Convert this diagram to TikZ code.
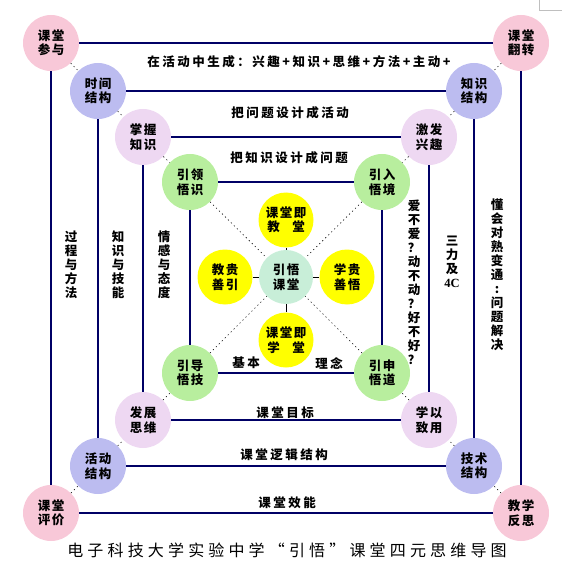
\documentclass[tikz,border=0pt]{standalone}
\usepackage{fontspec}
\setmainfont{Noto Sans CJK SC}
\newfontfamily\bodyfont{Noto Sans CJK SC}[LetterSpace=12]
\newfontfamily\labelfont{Noto Sans CJK SC}[LetterSpace=20]
\newfontfamily\titlefont{Noto Sans CJK SC}[LetterSpace=26]
\newfontfamily\latinfont{Liberation Serif}
\definecolor{pinkc}{HTML}{F8C8D8}
\definecolor{lavc}{HTML}{BCBCF0}
\definecolor{lilac}{HTML}{EED8F2}
\definecolor{greenc}{HTML}{B8EE9E}
\definecolor{mintc}{HTML}{C8EED8}
\definecolor{yellowc}{HTML}{FFFF00}
\definecolor{navy}{HTML}{000066}

\begin{document}
\begin{tikzpicture}[x=1pt, y=-1pt,
    ring/.style={circle, minimum size=56pt, inner sep=0pt, align=center,
        font={\bodyfont\bfseries\fontsize{12.5}{14.5}\selectfont}},
    label text/.style={inner sep=0pt, font={\labelfont\bfseries\fontsize{12.5}{14.5}\selectfont}},
    vtext/.style={inner sep=0pt, align=center, font={\bodyfont\bfseries\fontsize{12.5}{14}\selectfont}},
    frame/.style={draw=navy, line width=1.1pt},
    dotline/.style={draw=black, line width=0.6pt, dash pattern=on 1.2pt off 3pt}]
    \useasboundingbox (0,0) rectangle (562,569);
    \draw[gray!50] (539,0) -- (539,10) -- (562,10);

    % Outer circles
    \node[ring, fill=pinkc] (p1) at (51,43) {课堂\\参与};
    \node[ring, fill=pinkc] (p2) at (521,43) {课堂\\翻转};
    \node[ring, fill=pinkc] (p3) at (51,513) {课堂\\评价};
    \node[ring, fill=pinkc] (p4) at (521,513) {教学\\反思};

    \node[ring, fill=lavc] (l1) at (98,91) {时间\\结构};
    \node[ring, fill=lavc] (l2) at (474,91) {知识\\结构};
    \node[ring, fill=lavc] (l3) at (98,466) {活动\\结构};
    \node[ring, fill=lavc] (l4) at (474,466) {技术\\结构};

    \node[ring, fill=lilac] (m1) at (143,137) {掌握\\知识};
    \node[ring, fill=lilac] (m2) at (429,137) {激发\\兴趣};
    \node[ring, fill=lilac] (m3) at (143,420) {发展\\思维};
    \node[ring, fill=lilac] (m4) at (429,420) {学以\\致用};

    \node[ring, fill=greenc] (g1) at (190,182) {引领\\悟识};
    \node[ring, fill=greenc] (g2) at (382,182) {引入\\悟境};
    \node[ring, fill=greenc] (g3) at (190,373) {引导\\悟技};
    \node[ring, fill=greenc] (g4) at (382,373) {引申\\悟道};

    % Centre and yellow circles
    \node[ring, fill=mintc, minimum size=54pt] (c) at (286,277) {引悟\\课堂};
    \node[ring, fill=yellowc, minimum size=55pt] (yt) at (286,220) {课堂即\\教\quad 堂};
    \node[ring, fill=yellowc, minimum size=55pt] (yl) at (225,277) {教贵\\善引};
    \node[ring, fill=yellowc, minimum size=55pt] (yr) at (347,277) {学贵\\善悟};
    \node[ring, fill=yellowc, minimum size=55pt] (yb) at (286,340) {课堂即\\学\quad 堂};

    % Frames
    \draw[frame] (p1) -- (p2) (p1) -- (p3) (p3) -- (p4) (p2) -- (p4);
    \draw[frame] (l1) -- (l2) (l1) -- (l3) (l3) -- (l4) (l2) -- (l4);
    \draw[frame] (m1) -- (m2) (m1) -- (m3) (m3) -- (m4) (m2) -- (m4);
    \draw[frame] (g1) -- (g2) (g1) -- (g3) (g3) -- (g4) (g2) -- (g4);

    % Diagonals
    \draw[dotline] (p1) -- (l1) (l1) -- (m1) (m1) -- (g1) (g1) -- (c);
    \draw[dotline] (p2) -- (l2) (l2) -- (m2) (m2) -- (g2) (g2) -- (c);
    \draw[dotline] (p3) -- (l3) (l3) -- (m3) (m3) -- (g3) (g3) -- (c);
    \draw[dotline] (p4) -- (l4) (l4) -- (m4) (m4) -- (g4) (g4) -- (c);
    \draw[black, line width=0.6pt] (c) -- (yt) (c) -- (yl) (c) -- (yr) (c) -- (yb);

    % Horizontal texts
    \node[label text] (t1) at (299,62) {在活动中生成：兴趣+知识+思维+方法+主动+};
    \node[label text] (t2) at (290,113) {把问题设计成活动};
    \node[label text] (t3) at (289,158) {把知识设计成问题};
    \node[label text] (b1) at (285,413) {课堂目标};
    \node[label text] (b2) at (284,455) {课堂逻辑结构};
    \node[label text] (b3) at (287,503) {课堂效能};
    \node[label text] (k1) at (246,363) {基本};
    \node[label text] (k2) at (329,363) {理念};

    % Vertical texts
    \node[vtext] (v1) at (71,265) {过\\程\\与\\方\\法};
    \node[vtext] (v2) at (118,265) {知\\识\\与\\技\\能};
    \node[vtext] (v3) at (164,265) {情\\感\\与\\态\\度};
    \node[vtext] (v4) at (414,282) {爱\\不\\爱\\？\\动\\不\\动\\？\\好\\不\\好\\？};
    \node[vtext] (v5) at (452,262) {三\\力\\及\\{\latinfont\bfseries 4C}};
    \node[vtext] (v6) at (497,275) {懂\\会\\对\\熟\\变\\通\\:\\问\\题\\解\\决};

    % Title
    \node[inner sep=0pt, font={\titlefont\fontsize{16}{18}\selectfont}] (title) at (287,550)
        {电子科技大学实验中学“引悟”课堂四元思维导图};
\end{tikzpicture}
\end{document}
